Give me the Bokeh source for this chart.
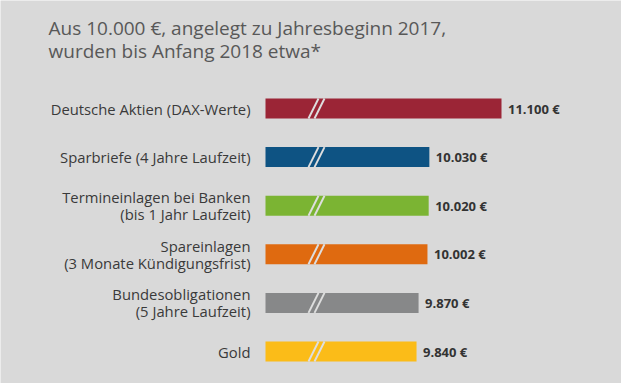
from bokeh.plotting import figure
from bokeh.models import Range1d, Label, ColumnDataSource
from bokeh.embed import file_html
from bokeh.resources import INLINE
from bokeh.core.properties import value

# ---- data ----
categories = [
    "Deutsche Aktien (DAX-Werte)",
    "Sparbriefe (4 Jahre Laufzeit)",
    "Termineinlagen bei Banken\n(bis 1 Jahr Laufzeit)",
    "Spareinlagen\n(3 Monate Kündigungsfrist)",
    "Bundesobligationen\n(5 Jahre Laufzeit)",
    "Gold",
]
values = [11100, 10030, 10020, 10002, 9870, 9840]
value_labels = ["11.100 €", "10.030 €", "10.020 €", "10.002 €", "9.870 €", "9.840 €"]
colors = ["#9b2536", "#0e5383", "#7bb433", "#df6a10", "#878889", "#fbbc18"]
title_lines = ["Aus 10.000 €, angelegt zu Jahresbeginn 2017,",
               "wurden bis Anfang 2018 etwa*"]

BASE = 7600          # broken axis: bars start here
BG = "#d9d9d9"
W, H = 621, 383
PX_PER_EUR = 0.06743
x_start = BASE - 265 / PX_PER_EUR
x_end = x_start + W / PX_PER_EUR
ROW = 48.6
y_top = -108 / ROW
y_bottom = 5 + (H - 351) / ROW

n = len(categories)
ys = list(range(n))
bar_h = 20 / ROW

src = ColumnDataSource(dict(
    y=ys, right=values, left=[BASE] * n, color=colors,
    cat=categories, lab=value_labels, base=[BASE] * n,
))

p = figure(width=W, height=H, output_backend="svg", toolbar_location=None,
           x_range=Range1d(x_start, x_end), y_range=Range1d(y_bottom, y_top),
           min_border=0, background_fill_color=BG, border_fill_color=BG,
           outline_line_color=None)
p.axis.visible = False
p.grid.visible = False

p.hbar(y="y", left="left", right="right", height=bar_h, color="color",
       line_color=None, source=src)

# break marks "//"
brk = BASE + 48 / PX_PER_EUR
d = 5 / PX_PER_EUR
gap = 6 / PX_PER_EUR
for off in (0, gap):
    p.segment(x0=[brk - d + off] * n, x1=[brk + d + off] * n,
              y0=[y + bar_h / 2 for y in ys], y1=[y - bar_h / 2 for y in ys],
              line_color="#dedede", line_width=2)

# category labels
p.text(x="base", y="y", text="cat", source=src, x_offset=-15,
       text_align="right", text_baseline="middle", text_font=value("Open Sans"),
       text_font_size="14.8px", text_color="#3a3a3a", text_line_height=0.85)

# value labels
p.text(x="right", y="y", text="lab", source=src, x_offset=6.5,
       text_align="left", text_baseline="middle", text_font=value("Open Sans"),
       text_font_size="13px", text_font_style="bold", text_color="#333333")

# title
for i, line in enumerate(title_lines):
    p.add_layout(Label(x=48, x_units="screen", y=y_top + (27.5 + 23 * i) / ROW,
                       text=line, text_font="Open Sans", text_font_size="19px",
                       text_color="#585858", text_baseline="alphabetic"))

html = file_html(p, INLINE)
html = html.replace("<body>", '<body style="background:%s">' % BG, 1)
open("out.html", "w").write(html)
